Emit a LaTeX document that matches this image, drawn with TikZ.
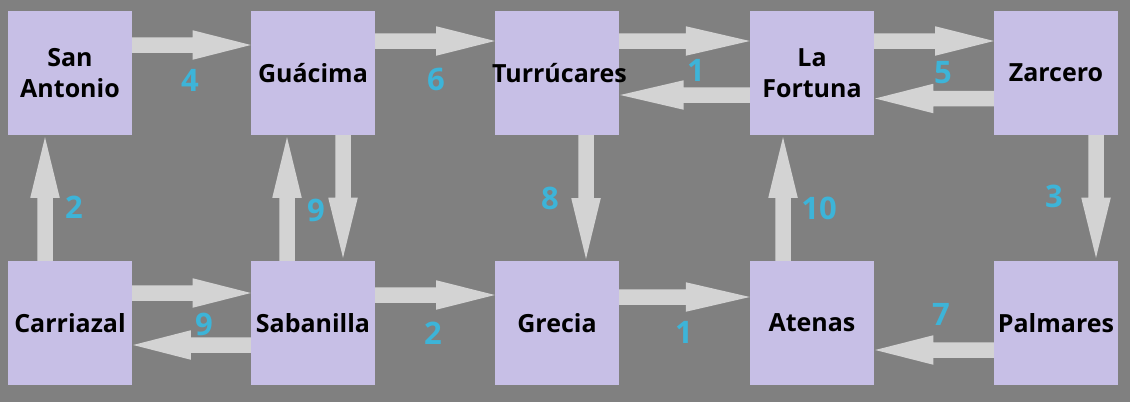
\documentclass[tikz,border=0pt]{standalone}
\usepackage{fontspec}
\setmainfont{Open Sans}
\usetikzlibrary{calc}
\definecolor{bgc}{RGB}{128,128,128}
\definecolor{boxc}{RGB}{199,191,230}
\definecolor{arrc}{RGB}{211,211,211}
\definecolor{labc}{RGB}{61,180,216}
\tikzset{
  city/.style={fill=boxc, minimum width=124pt, minimum height=124pt, inner sep=0pt,
    align=center, text=black, font=\bfseries\fontsize{25}{31}\selectfont},
  num/.style={text=labc, inner sep=0pt, font=\bfseries\fontsize{31}{31}\selectfont},
  arrfill/.style={fill=arrc}
}
\newcommand\blk[2]{%
  \coordinate (bS) at #1;
  \coordinate (bT) at #2;
  \coordinate (bB) at ($(bT)!0.49!(bS)$);
  \fill[arrfill] ($(bS)!7.75pt!90:(bT)$) -- ($(bB)!7.75pt!90:(bT)$) -- ($(bB)!14.75pt!90:(bT)$)
     -- (bT) -- ($(bB)!14.75pt!-90:(bT)$) -- ($(bB)!7.75pt!-90:(bT)$) -- ($(bS)!7.75pt!-90:(bT)$) -- cycle;
}
\begin{document}
\begin{tikzpicture}[x=1pt,y=-1pt]
\fill[bgc] (0,0) rectangle (1130,402);
\useasboundingbox (0,0) rectangle (1130,402);
% boxes
\node[city] (sa) at (70,73) {San\\Antonio};
\node[city] (gu) at (313,73) {Guácima};
\node[city] (tu) at (557,73) {\makebox[0pt]{\hspace*{5pt}Turrúcares}};
\node[city] (lf) at (812,73) {La\\Fortuna};
\node[city] (za) at (1056,73) {Zarcero};
\node[city] (ca) at (70,323) {Carriazal};
\node[city] (sb) at (313,323) {Sabanilla};
\node[city] (gr) at (557,323) {Grecia};
\node[city] (at) at (812,323) {Atenas};
\node[city] (pa) at (1056,323) {Palmares};
% arrows top row
\blk{($(sa.east)+(0,-28)$)}{($(gu.west)+(0,-28)$)}
\blk{($(gu.east)+(0,-32)$)}{($(tu.west)+(0,-32)$)}
\blk{($(tu.east)+(0,-32)$)}{($(lf.west)+(0,-32)$)}
\blk{($(lf.west)+(0,22)$)}{($(tu.east)+(1,22)$)}
\blk{($(lf.east)+(0,-32)$)}{($(za.west)+(0,-32)$)}
\blk{($(za.west)+(0,25.5)$)}{($(lf.east)+(1,25.5)$)}
% vertical
\blk{($(ca.north)+(-25,0)$)}{($(sa.south)+(-25,2)$)}
\blk{($(sb.north)+(-26,0)$)}{($(gu.south)+(-26,2)$)}
\blk{($(gu.south)+(30,0)$)}{($(sb.north)+(30,-3)$)}
\blk{($(tu.south)+(29,0)$)}{($(gr.north)+(29,-2)$)}
\blk{($(at.north)+(-29,0)$)}{($(lf.south)+(-29,2)$)}
\blk{($(za.south)+(40,0)$)}{($(pa.north)+(40,-3)$)}
% bottom row
\blk{($(ca.east)+(0,-30)$)}{($(sb.west)+(0,-30)$)}
\blk{($(sb.west)+(0,22)$)}{($(ca.east)+(1,22)$)}
\blk{($(sb.east)+(0,-28)$)}{($(gr.west)+(0,-28)$)}
\blk{($(gr.east)+(0,-26)$)}{($(at.west)+(0,-26)$)}
\blk{($(pa.west)+(0,27)$)}{($(at.east)+(1,27)$)}
% labels
\node[num] (n4) at (190,80.5) {4};
\node[num] (n6) at (436,79) {6};
\node[num] (n1a) at (696,70) {1};
\node[num] (n5) at (943,73) {5};
\node[num] (n2a) at (74,207) {2};
\node[num] (n9a) at (316,210.5) {9};
\node[num] (n8) at (550,198) {8};
\node[num] (n10) at (819,208) {10};
\node[num] (n3) at (1054,196) {3};
\node[num] (n9b) at (204,324) {9};
\node[num] (n2b) at (433,333) {2};
\node[num] (n1b) at (684,332) {1};
\node[num] (n7) at (941,314) {7};
\end{tikzpicture}
\end{document}
